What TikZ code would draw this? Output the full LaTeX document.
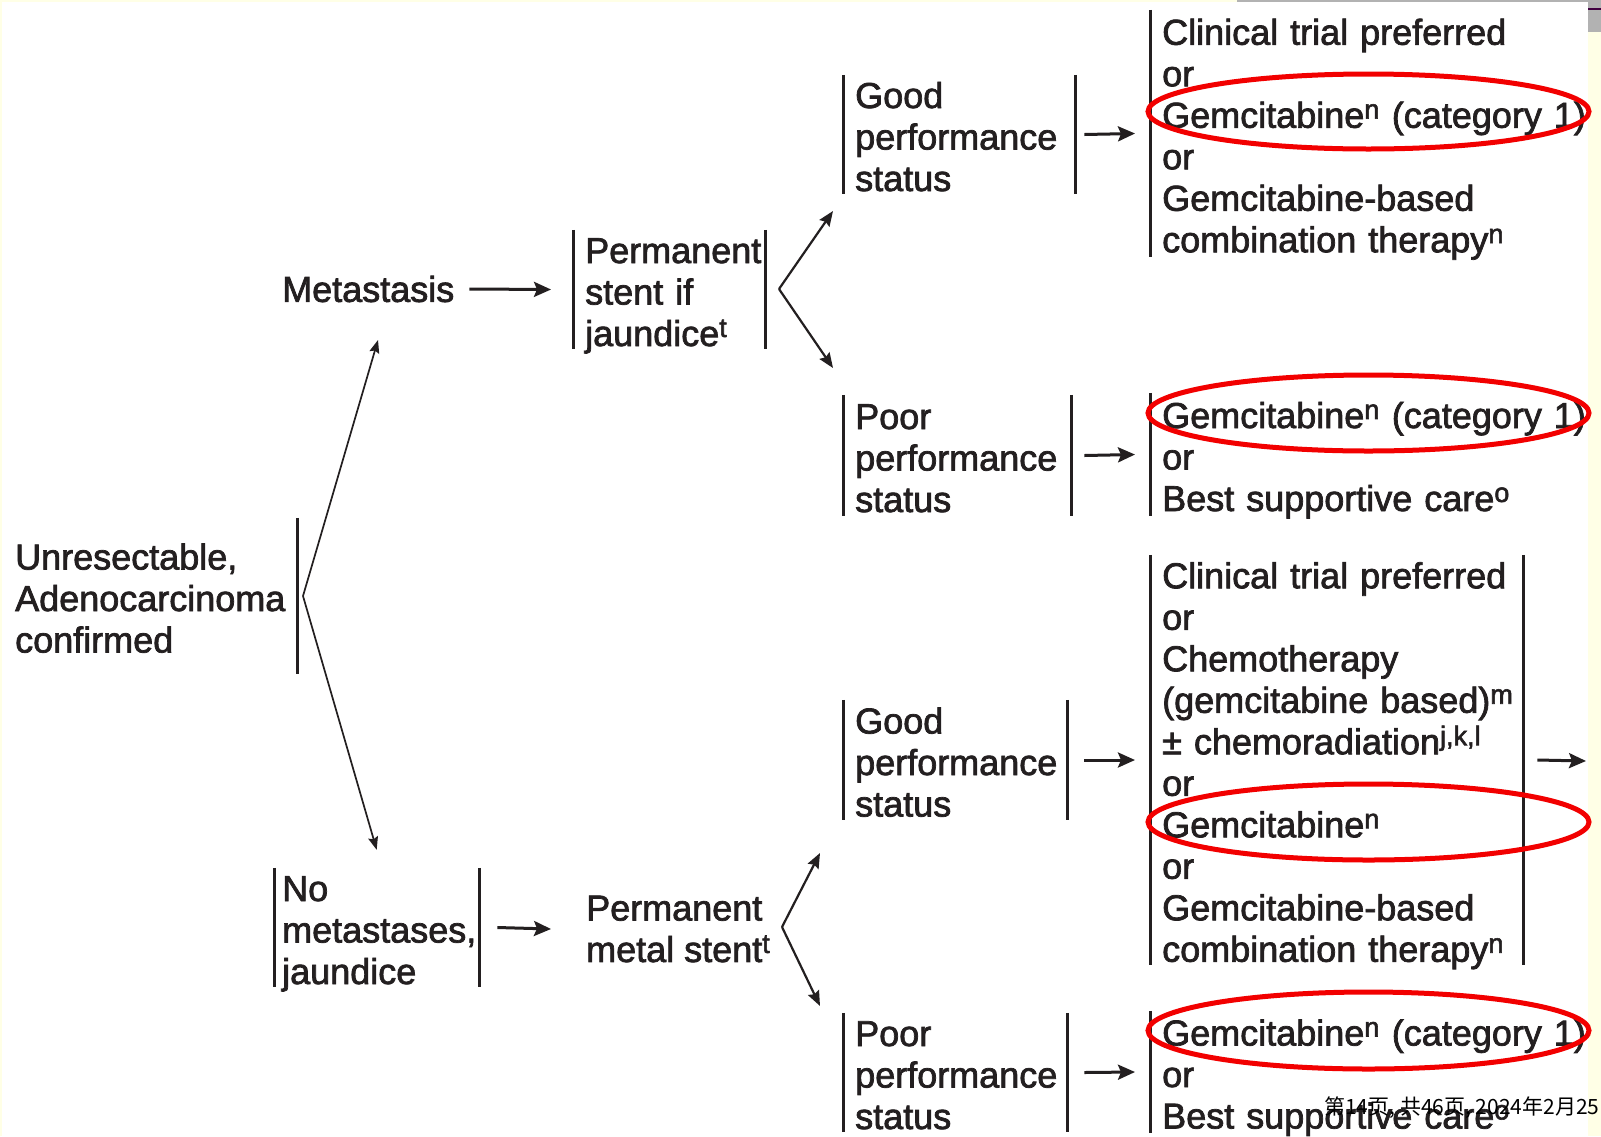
\documentclass[tikz,border=0pt]{standalone}
\usepackage{fontspec}
\setmainfont{Liberation Sans}[FakeBold=2]
\newfontfamily\cjkfont{Noto Sans CJK SC}
\usepackage{tikz}
\usetikzlibrary{arrows.meta,positioning}
\newcommand{\slidefont}{\fontsize{36}{41.5}\selectfont}
\newcommand{\sups}[1]{\textsuperscript{\fontsize{27}{27}\selectfont #1}}
\definecolor{ink}{HTML}{231F20}
\definecolor{cream}{HTML}{FFFFE6}
\definecolor{ringred}{HTML}{F20000}
\tikzset{bar/.style={draw=ink,line width=3pt}}

\begin{document}
\begin{tikzpicture}[x=1pt,y=-1pt,font=\slidefont,text=ink,
                    >={Stealth[length=17pt,width=15pt,inset=3pt]}]
  \tikzstyle{pbox}=[align=left,anchor=west,inner xsep=12pt,inner ysep=-5pt,
                    execute at begin node={\rule{0pt}{38pt}},
                    execute at end node={\rule[-8pt]{0pt}{8pt}}]
  \tikzstyle{plain}=[align=left,anchor=west,inner sep=0pt]
  \tikzstyle{arr}=[->,draw=ink,line width=3pt]
  \tikzstyle{branch}=[-{Stealth[length=15pt,width=12pt,inset=2pt]},draw=ink,line width=2.2pt]
  \tikzstyle{fork}=[-{Stealth[length=13pt,width=10pt,inset=2pt]},draw=ink,line width=1.7pt]
  \tikzstyle{ring}=[draw=ringred,line width=5pt]

  \useasboundingbox (0,0) rectangle (1601,1136);
  % slide background
  \fill[cream] (0,0) rectangle (1601,1136);
  \fill[white] (2,2) rectangle (1588,1136);
  \fill[black!30] (1237,0) rectangle (1601,2);
  \fill[black!30] (1588,0) rectangle (1601,32);
  \draw[violet!50!black,line width=2pt] (1588,9) -- (1601,9);

  \node[pbox,text width=270pt,minimum height=156pt] (unres) at (3,596)
    {Unresectable,\\Adenocarcinoma\\confirmed};
  \node[plain] (meta) at (282,289) {Metastasis};
  \node[pbox,text width=168pt,minimum height=119pt] (stent) at (573,289.5)
    {Permanent\\stent~if\\jaundice\sups{t}};
  \node[pbox,inner xsep=8pt,text width=189pt,minimum height=119pt] (nometa) at (274,927.5)
    {No\\metastases,\\jaundice};
  \node[plain] (metal) at (586,929) {Permanent\\metal~stent\sups{t}};

  \node[pbox,text width=208pt,minimum height=119pt] (goodA) at (843,134.5)
    {Good\\performance\\status};
  \node[pbox,text width=204pt,minimum height=121pt] (poorA) at (843,455.5)
    {Poor\\performance\\status};
  \node[pbox,text width=200pt,minimum height=120pt] (goodB) at (843,760)
    {Good\\performance\\status};
  \node[pbox,text width=200pt,minimum height=117pt] (poorB) at (843,1072.5)
    {Poor\\performance\\status};

  \node[pbox,text width=440pt,minimum height=247pt] (treatA) at (1150,133.5)
    {Clinical~trial~preferred\\or\\Gemcitabine\sups{n}~(category~1)\\or\\
     Gemcitabine-based\\combination~therapy\sups{n}};
  \node[pbox,text width=440pt,minimum height=123pt] (treatB) at (1150,454.5)
    {Gemcitabine\sups{n}~(category~1)\\or\\Best~supportive~care\sups{o}};
  \node[pbox,text width=349pt,minimum height=410pt] (treatC) at (1150,760)
    {Clinical~trial~preferred\\or\\Chemotherapy\\(gemcitabine~based)\sups{m}\\
     ±~chemoradiation\sups{j,k,l}\\or\\Gemcitabine\sups{n}\\or\\
     Gemcitabine-based\\combination~therapy\sups{n}};
  \node[pbox,text width=440pt,minimum height=122pt] (treatD) at (1150,1072)
    {Gemcitabine\sups{n}~(category~1)\\or\\Best~supportive~care\sups{o}};

  \coordinate (forkA) at (303,596);
  \coordinate (upA) at (378,340);
  \coordinate (forkB) at (779,289);
  \coordinate (upB) at (833,211);
  \coordinate (downB) at (833,368);
  \coordinate (forkC) at (782,927);
  \coordinate (upC) at (820,853);
  \coordinate (downC) at (820,1006);
  \coordinate (onward) at (1586,761);

  % bars
  \draw[bar] (unres.north east) -- (unres.south east);
  \foreach \n in {stent,nometa,goodA,poorA,goodB,poorB,treatC}
    \draw[bar] (\n.north west) -- (\n.south west) (\n.north east) -- (\n.south east);
  \foreach \n in {treatA,treatB,treatD}
    \draw[bar] (\n.north west) -- (\n.south west);

  \path
(forkA) edge[fork] (upA)
(forkA) edge[fork] ([yshift=18pt]nometa.north)
(forkB) edge[branch] (upB)
(forkB) edge[branch] (downB)
(forkC) edge[branch] (upC)
(forkC) edge[branch] (downC)
([xshift=15pt]meta.east) edge[arr] ([xshift=-22pt]stent.west)
([xshift=18pt]nometa.east) edge[arr] ([xshift=-35pt]metal.west)
([xshift=9pt]goodA.east) edge[arr] ([xshift=-15pt]treatA.west)
([xshift=13pt]poorA.east) edge[arr] ([xshift=-15pt]treatB.west)
([xshift=17pt]goodB.east) edge[arr] ([xshift=-15pt]treatC.west)
([xshift=17pt]poorB.east) edge[arr] ([xshift=-15pt]treatD.west)
([xshift=14pt]treatC.east) edge[arr] (onward)
;

  % red rings
  \draw[ring] (1368.5,111.5) ellipse (220.5 and 37.5);
  \draw[ring] (1368.5,413) ellipse (220.5 and 38);
  \draw[ring] (1368.5,822) ellipse (220.5 and 38);
  \draw[ring] (1368.5,1030.5) ellipse (220.5 and 38.5);

  \node[plain,font=\cjkfont\fontsize{21}{24}\selectfont,text=black] (stamp) at (1324,1108)
    {第14页, 共46页, 2024年2月25日};

\end{tikzpicture}
\end{document}
